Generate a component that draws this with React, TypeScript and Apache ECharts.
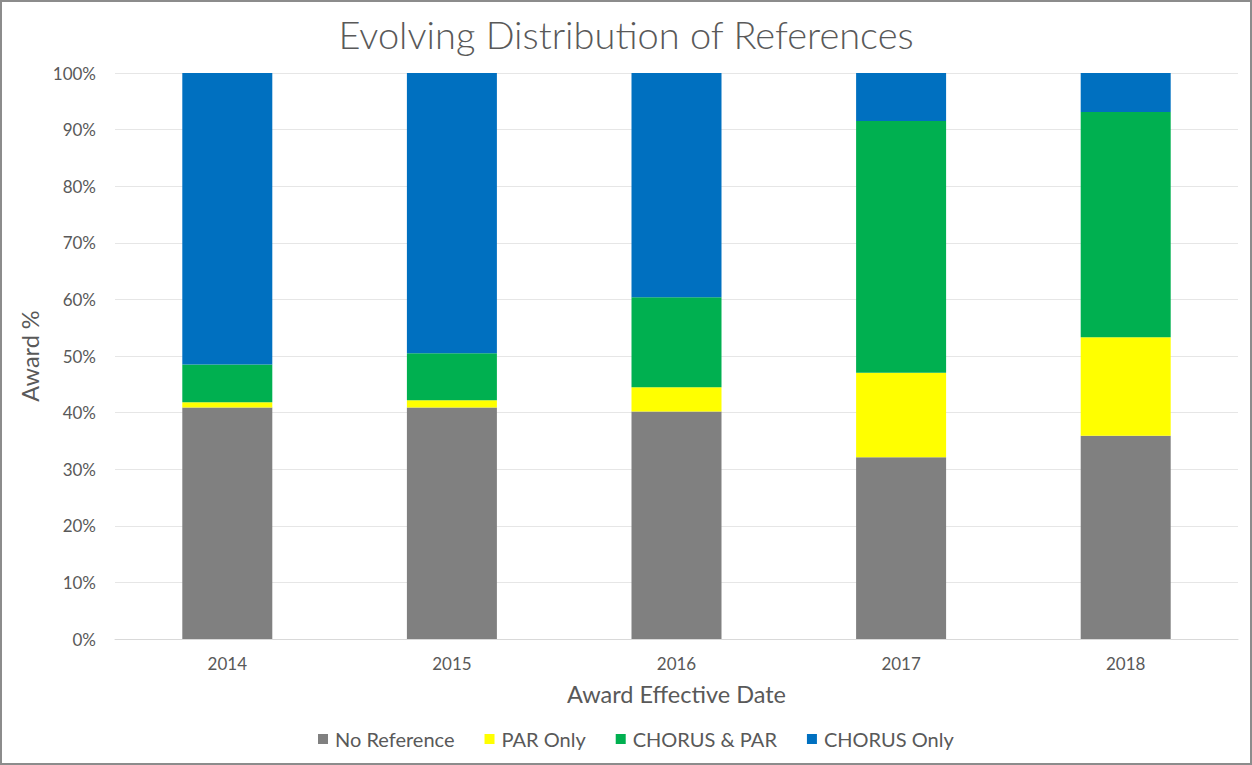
import React, { useEffect, useRef } from "react";
import * as echarts from "echarts";

const categories = ["2014", "2015", "2016", "2017", "2018"];
const noReference = [40.9, 40.9, 40.2, 32.1, 35.9];
const parOnly = [0.95, 1.3, 4.3, 14.95, 17.4];
const chorusAndPar = [6.65, 8.3, 15.9, 44.45, 39.8];
const chorusOnly = [51.5, 49.5, 39.6, 8.5, 6.9];

const seriesNames = ["No Reference", "PAR Only", "CHORUS & PAR", "CHORUS Only"];
const seriesColors = ["#808080", "#FFFF00", "#00B050", "#0070C0"];
const yTicks = [0, 10, 20, 30, 40, 50, 60, 70, 80, 90, 100];

const FONT = "Lato, 'Open Sans', sans-serif";
const TEXT = "#595959";

export default function App() {
  const ref = useRef<HTMLDivElement>(null);
  useEffect(() => {
    if (!ref.current) return;
    const chart = echarts.init(ref.current, undefined, { renderer: "svg" });
    const data = [noReference, parOnly, chorusAndPar, chorusOnly];
    chart.setOption({
      animation: false,
      backgroundColor: "#ffffff",
      textStyle: { fontFamily: FONT },
      title: {
        text: "Evolving Distribution of References",
        left: "center",
        top: 10,
        textStyle: { fontFamily: FONT, fontSize: 38, fontWeight: 300, color: TEXT },
      },
      graphic: [
        {
          type: "rect",
          shape: { x: 1, y: 1, width: 1250, height: 763 },
          style: { fill: "none", stroke: "#8c8c8c", lineWidth: 2 },
          silent: true,
        },
      ],
      legend: {
        bottom: 11,
        left: 313,
        itemWidth: 10,
        itemHeight: 10,
        itemGap: 30,
        icon: "rect",
        textStyle: { fontFamily: FONT, fontSize: 20, color: TEXT, padding: [0, 0, 0, 2] },
        data: seriesNames,
      },
      grid: { left: 115, right: 14, top: 73, bottom: 126, containLabel: false },
      xAxis: {
        type: "category",
        data: categories,
        name: "Award Effective Date",
        nameLocation: "middle",
        nameGap: 43,
        nameTextStyle: { fontFamily: FONT, fontSize: 23.5, color: TEXT },
        axisLine: { show: true, lineStyle: { color: "#d9d9d9" } },
        axisTick: { show: false },
        axisLabel: { fontFamily: FONT, fontSize: 17, color: TEXT, margin: 16 },
      },
      yAxis: {
        type: "value",
        min: 0,
        max: 100,
        interval: 10,
        name: "Award %",
        nameLocation: "middle",
        nameGap: 66,
        nameTextStyle: { fontFamily: FONT, fontSize: 23.5, color: TEXT },
        axisLine: { show: false },
        axisTick: { show: false },
        splitLine: { lineStyle: { color: "#e6e6e6", width: 1 } },
        axisLabel: {
          fontFamily: FONT,
          fontSize: 17,
          color: TEXT,
          margin: 19,
          formatter: (v: number) => (yTicks.includes(v) ? v + "%" : ""),
        },
      },
      series: seriesNames.map((name, i) => ({
        name,
        type: "bar",
        stack: "total",
        barWidth: 90,
        data: data[i],
        itemStyle: { color: seriesColors[i] },
      })),
    });
    return () => chart.dispose();
  }, []);
  return (
    <div
      ref={ref}
      style={{ position: "fixed", left: 0, top: 0, width: 1252, height: 765 }}
    />
  );
}
